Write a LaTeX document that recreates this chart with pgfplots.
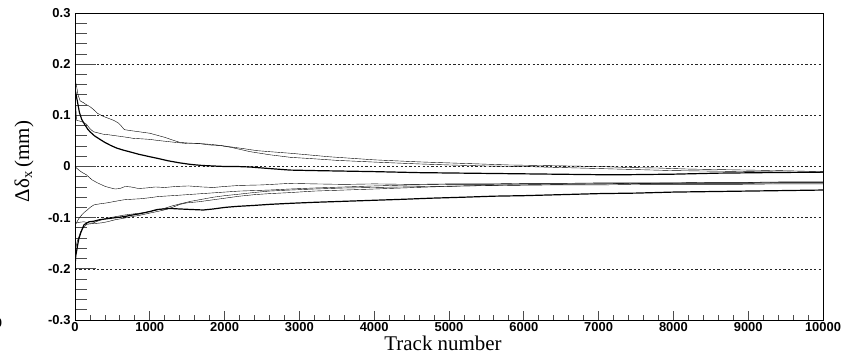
\documentclass[border=0pt]{standalone}
\usepackage{fontspec}
\setmainfont{Liberation Serif}
\newfontfamily\arialfont{Liberation Sans}
\usepackage{pgfplots}
\pgfplotsset{compat=1.18}
\begin{document}
\begin{tikzpicture}
\pgfplotsset{
  common/.style={scale only axis, width=748bp, height=307bp,
    xmin=0, xmax=10000, ymin=-0.3, ymax=0.3, clip=true,
    tick label style={font=\arialfont\bfseries\fontsize{13}{15}\selectfont},
    /pgf/number format/assume math mode=true,
    tick align=inside},
}
% axis with y ticks, labels and dashed grid
\begin{axis}[common,
  axis line style={draw=none},
  xtick=\empty,
  ytick={-0.3,-0.2,-0.1,0,0.1,0.2,0.3},
  yticklabels={-0.3,-0.2,-0.1,0,0.1,0.2,0.3},
  minor y tick num=4,
  ytick pos=left,
  major tick length=21bp, minor tick length=12bp,
  every tick/.style={black!70, line width=0.8bp},
  ymajorgrids,
  major grid style={black!85, line width=0.6bp, dash pattern=on 2.2bp off 2.2bp},
  yticklabel style={xshift=-1bp},
]
\end{axis}
% main axis with frame, x ticks and data
\begin{axis}[common, name=ax,
  axis line style={black, line width=0.9bp},
  ytick=\empty,
  xtick={0,1000,2000,3000,4000,5000,6000,7000,8000,9000,10000},
  xticklabels={0,1000,2000,3000,4000,5000,6000,7000,8000,9000,10000},
  scaled x ticks=false,
  minor x tick num=4,
  xtick pos=left,
  major tick length=9bp, minor tick length=5bp,
  every tick/.style={black!70, line width=0.8bp},
  xticklabel style={yshift=1bp},
  cycle list={{black, solid, line width=1.2bp, mark=none, line join=round}},
  no markers,
]
% Curve A
\addplot table {
0 0.170
20 0.158
40 0.140
70 0.128
110 0.125
150 0.121
200 0.117
250 0.111
300 0.104
378 0.098
450 0.094
520 0.090
580 0.085
620 0.079
660 0.072
750 0.070
850 0.068
1000 0.065
1100 0.061
1200 0.057
1300 0.052
1404 0.047
1500 0.046
1650 0.045
1805 0.042
1950 0.041
2100 0.038
2250 0.035
2430 0.031
2600 0.029
2870 0.026
3100 0.023
3400 0.019
3700 0.016
4000 0.013
4300 0.011
4600 0.009
5000 0.007
5400 0.005
5800 0.003
6200 0.002
6600 0.001
7000 0.000
7400 -0.002
7800 -0.003
8200 -0.005
8600 -0.006
9000 -0.007
9400 -0.008
9700 -0.009
10000 -0.010
};
% Curve B
\addplot table {
0 0.160
10 0.120
20 0.090
60 0.089
100 0.087
150 0.083
200 0.074
245 0.068
300 0.066
380 0.063
450 0.062
550 0.060
650 0.058
780 0.055
900 0.054
1000 0.053
1100 0.051
1226 0.049
1350 0.047
1493 0.045
1600 0.045
1750 0.044
1900 0.042
2100 0.037
2340 0.029
2600 0.023
2874 0.018
3200 0.015
3500 0.012
3800 0.010
4100 0.008
4600 0.005
5000 0.003
5500 0.001
6000 0.000
6500 -0.002
7000 -0.004
7500 -0.006
8000 -0.008
8500 -0.009
9000 -0.010
9500 -0.011
10000 -0.012
};
% Curve C
\addplot table {
0 0.152
15 0.140
35 0.125
60 0.105
90 0.092
130 0.082
170 0.073
200 0.068
260 0.060
334 0.053
400 0.047
480 0.041
557 0.036
646 0.032
750 0.028
850 0.024
1003 0.019
1100 0.016
1250 0.011
1404 0.007
1550 0.004
1700 0.002
1850 0.001
2000 0.000
2161 0.000
2340 -0.001
2600 -0.004
2874 -0.007
3200 -0.008
3600 -0.009
4000 -0.010
4600 -0.012
5200 -0.013
5800 -0.014
6400 -0.015
7000 -0.016
7400 -0.016
8000 -0.015
8600 -0.013
9200 -0.012
10000 -0.011
};
% Curve D
\addplot table {
0 0.000
20 -0.003
60 -0.008
100 -0.012
150 -0.016
227 -0.026
300 -0.032
405 -0.039
480 -0.042
539 -0.044
600 -0.043
672 -0.039
750 -0.040
851 -0.043
950 -0.042
1074 -0.040
1200 -0.041
1350 -0.039
1520 -0.038
1700 -0.040
1850 -0.041
2000 -0.039
2200 -0.037
2500 -0.036
2874 -0.033
3200 -0.034
3600 -0.035
4000 -0.034
4500 -0.035
5000 -0.034
5500 -0.034
6000 -0.033
6500 -0.033
7000 -0.032
7500 -0.032
8000 -0.032
8500 -0.031
9000 -0.031
9500 -0.030
10000 -0.030
};
% Curve E
\addplot table {
0 -0.114
20 -0.110
50 -0.102
76 -0.097
120 -0.090
164 -0.085
210 -0.079
254 -0.075
330 -0.073
432 -0.071
540 -0.068
655 -0.065
760 -0.064
878 -0.063
1000 -0.061
1100 -0.059
1190 -0.058
1300 -0.057
1404 -0.056
1600 -0.054
1800 -0.052
2000 -0.050
2200 -0.048
2400 -0.047
2600 -0.046
2874 -0.044
3200 -0.042
3600 -0.040
4000 -0.038
4500 -0.036
5000 -0.035
5500 -0.035
6000 -0.034
6500 -0.034
7000 -0.034
7500 -0.033
8000 -0.033
8500 -0.033
9000 -0.033
9500 -0.032
10000 -0.032
};
% Curve F
\addplot table {
0 -0.111
30 -0.110
60 -0.109
120 -0.108
170 -0.110
210 -0.111
250 -0.110
298 -0.107
360 -0.104
432 -0.101
540 -0.098
655 -0.095
760 -0.093
878 -0.091
1000 -0.088
1100 -0.085
1190 -0.082
1300 -0.077
1404 -0.073
1550 -0.068
1700 -0.064
1850 -0.060
2000 -0.057
2200 -0.054
2383 -0.051
2600 -0.048
2874 -0.046
3200 -0.044
3600 -0.042
4000 -0.041
4746 -0.039
5200 -0.038
5800 -0.037
6400 -0.036
7000 -0.036
7600 -0.035
8200 -0.035
8800 -0.035
9400 -0.034
10000 -0.034
};
% Curve G
\addplot table {
0 -0.170
10 -0.160
30 -0.146
53 -0.137
80 -0.126
120 -0.118
160 -0.113
210 -0.112
298 -0.111
360 -0.110
432 -0.108
540 -0.104
655 -0.101
760 -0.098
878 -0.095
1000 -0.091
1100 -0.088
1190 -0.085
1300 -0.080
1404 -0.074
1500 -0.071
1650 -0.069
1800 -0.066
2000 -0.062
2200 -0.058
2400 -0.055
2600 -0.053
2874 -0.051
3200 -0.048
3600 -0.046
4000 -0.044
4746 -0.040
5200 -0.038
5800 -0.036
6400 -0.035
7000 -0.034
7600 -0.033
8200 -0.032
8800 -0.032
9400 -0.031
10000 -0.031
};
% Curve H
\addplot table {
0 -0.196
10 -0.175
31 -0.157
50 -0.142
76 -0.130
100 -0.121
120 -0.114
187 -0.108
250 -0.107
330 -0.104
432 -0.102
540 -0.100
655 -0.098
760 -0.095
878 -0.092
1000 -0.088
1100 -0.084
1190 -0.083
1270 -0.082
1400 -0.083
1550 -0.084
1716 -0.085
1850 -0.083
2000 -0.080
2161 -0.078
2400 -0.076
2600 -0.074
2874 -0.072
3200 -0.070
3600 -0.068
4000 -0.066
4400 -0.064
4746 -0.062
5200 -0.060
5600 -0.058
6000 -0.057
6500 -0.055
7000 -0.053
7500 -0.052
8000 -0.050
8500 -0.049
9000 -0.048
9500 -0.047
10000 -0.046
};
\end{axis}
% axis titles
\node[anchor=base, font=\fontsize{21}{24}\selectfont] at ([xshift=368bp, yshift=-30bp]ax.south west) {Track number};
\node[rotate=90, anchor=center, inner sep=0pt, font=\fontsize{21}{24}\selectfont] at ([xshift=-51bp, yshift=5bp]ax.west) {Δδ\textsubscript{x}\,(mm)};
% clipped stray label at the left edge (as in the reference)
\node[font=\arialfont\bfseries\fontsize{13}{15}\selectfont, anchor=center] at ([xshift=-76.5bp, yshift=-3bp]ax.south west) {0};
\pgfresetboundingbox
\path ([xshift=-75bp, yshift=-35bp]ax.south west) rectangle ([xshift=19bp, yshift=13bp]ax.north east);
\end{tikzpicture}
\end{document}
